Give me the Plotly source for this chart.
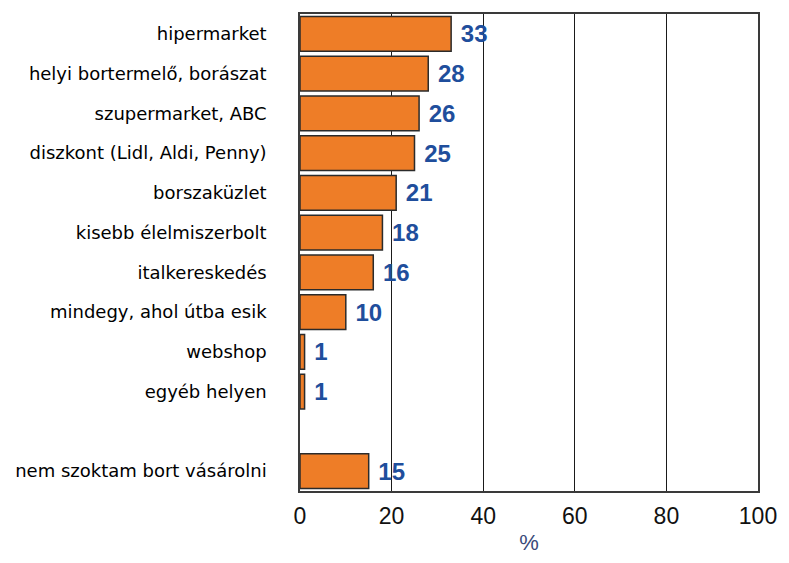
import plotly.graph_objects as go

categories = ["hipermarket", "helyi bortermelő, borászat", "szupermarket, ABC",
              "diszkont (Lidl, Aldi, Penny)", "borszaküzlet", "kisebb élelmiszerbolt",
              "italkereskedés", "mindegy, ahol útba esik", "webshop", "egyéb helyen",
              " ", "nem szoktam bort vásárolni"]
values = [33, 28, 26, 25, 21, 18, 16, 10, 1, 1, None, 15]
labels = ["33", "28", "26", "25", "21", "18", "16", "10", "1", "1", "", "15"]
x_ticks = [0, 20, 40, 60, 80, 100]

fig = go.Figure(go.Bar(
    x=values, y=categories, orientation="h",
    marker=dict(color="#ee7d27", line=dict(color="#2b2b2b", width=1.5)),
    width=0.87,
    text=[" " + t for t in labels], textposition="outside",
    textfont=dict(color="#1f4e9c", size=24, family="Liberation Sans", weight="bold"),
    cliponaxis=False,
))

# page body has an 8px default margin; size and margins compensate for it
fig.update_layout(
    width=773, height=547,
    margin=dict(l=292, r=18, t=4, b=61),
    paper_bgcolor="white", plot_bgcolor="white",
    showlegend=False,
    font=dict(family="Liberation Sans", color="black"),
    xaxis=dict(range=[0, 100], tickvals=x_ticks, showgrid=True, gridcolor="#1a1a1a",
               gridwidth=1, zeroline=False, showline=True, mirror=True,
               linecolor="#3a3a3a", linewidth=1.5,
               tickfont=dict(size=23, color="#111", family="Liberation Sans"),
               ticks="", ticklabelstandoff=4, ticklabeloverflow="allow",
               title=dict(text="%", font=dict(size=22, color="#3a4a7a"), standoff=6)),
    yaxis=dict(categoryorder="array", categoryarray=categories, autorange="reversed",
               showgrid=False, zeroline=False, showline=True, mirror=True,
               linecolor="#3a3a3a", linewidth=1.5,
               tickfont=dict(size=18, color="black", family="DejaVu Sans"),
               ticks="", ticklabelstandoff=28),
    bargap=0.13,
)

fig.write_html("out.html")
